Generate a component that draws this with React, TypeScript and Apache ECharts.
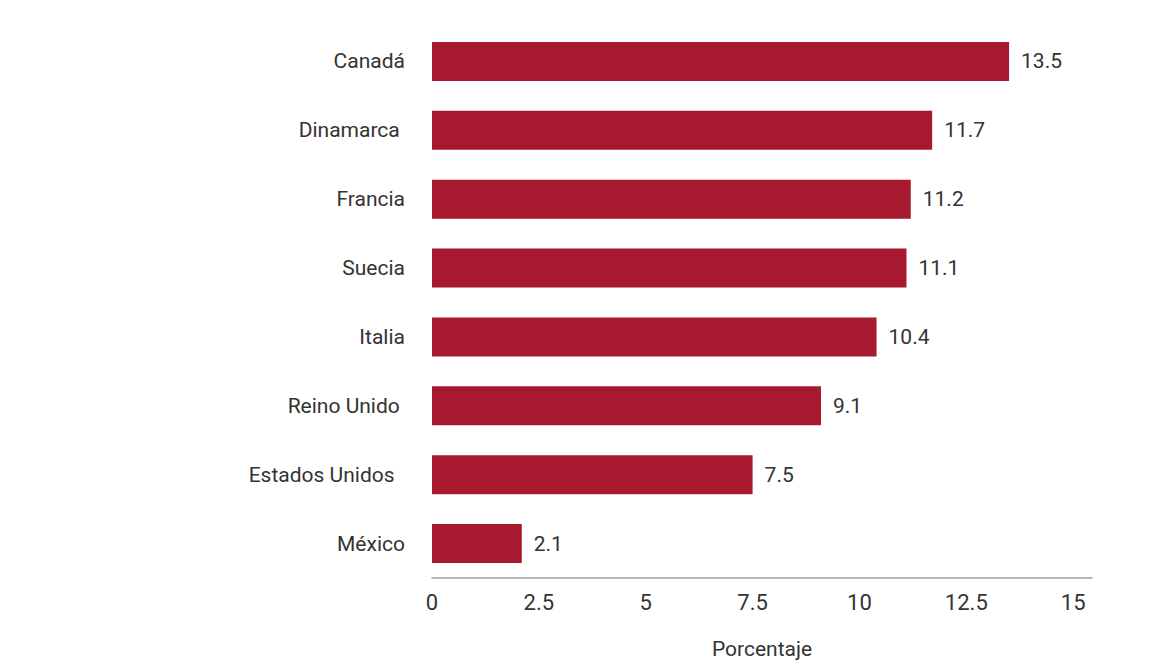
import React, { useEffect, useRef } from "react";
import * as echarts from "echarts";

const categories = ["Canadá", "Dinamarca ", "Francia", "Suecia", "Italia", "Reino Unido ", "Estados Unidos  ", "México"];
const values = [13.5, 11.7, 11.2, 11.1, 10.4, 9.1, 7.5, 2.1];
const axisName = "Porcentaje";

export default function App() {
  const ref = useRef<HTMLDivElement>(null);
  useEffect(() => {
    if (!ref.current) return;
    const chart = echarts.init(ref.current, null, { renderer: "svg" });
    const font = "Roboto, 'Liberation Sans', sans-serif";
    chart.setOption({
      animation: false,
      backgroundColor: "#ffffff",
      grid: { left: 432, right: 80, top: 27, bottom: 91, containLabel: false },
      xAxis: {
        type: "value",
        min: 0,
        max: 15.44,
        interval: 2.5,
        name: axisName,
        nameLocation: "middle",
        nameGap: 60,
        nameTextStyle: { fontFamily: font, fontSize: 21, color: "#333" },
        axisLine: { show: true, lineStyle: { color: "#a0a0a0", width: 1.5 } },
        axisTick: { show: false },
        splitLine: { show: false },
        axisLabel: {
          fontFamily: font,
          fontSize: 22,
          color: "#333",
          margin: 13,
          showMaxLabel: false,
          formatter: (v: number) => (v > 15 ? "" : String(v)),
        },
      },
      yAxis: {
        type: "category",
        data: categories,
        inverse: true,
        axisLine: { show: false },
        axisTick: { show: false },
        splitLine: { show: false },
        axisLabel: { fontFamily: font, fontSize: 21, color: "#333", margin: 27 },
      },
      series: [
        {
          type: "bar",
          data: values,
          barWidth: 39,
          itemStyle: { color: "#a6192e" },
          label: {
            show: true,
            position: "right",
            distance: 12,
            fontFamily: font,
            fontSize: 21,
            color: "#333",
            formatter: (p: any) => p.value.toFixed(1),
          },
        },
      ],
    });
    return () => chart.dispose();
  }, []);
  return (
    <div
      ref={ref}
      style={{ position: "fixed", left: 0, top: 0, width: 1172, height: 669, background: "#fff" }}
    />
  );
}
